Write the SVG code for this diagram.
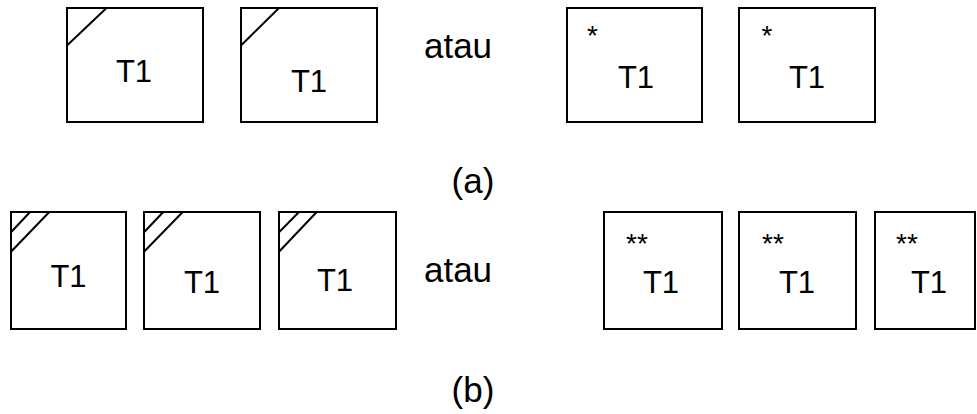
<svg xmlns="http://www.w3.org/2000/svg" width="977" height="414" viewBox="0 0 977 414">
<style>
.box{fill:#fff;stroke:#000;stroke-width:2}
.ln{stroke:#000;stroke-width:2;fill:none}
.t{font-family:"Liberation Sans",Arial,sans-serif;font-size:31px;fill:#000;text-anchor:middle}
.s{font-family:"Liberation Sans",Arial,sans-serif;font-size:28px;fill:#000;text-anchor:middle}
.lbl{font-family:"Liberation Sans",Arial,sans-serif;font-size:35px;fill:#000;text-anchor:middle}
</style>
<rect width="977" height="414" fill="#fff"/>
<g id="a1"><rect class="box" x="67" y="8" width="136" height="114"/><line class="ln" x1="67" y1="45.5" x2="106.5" y2="8"/><text class="t" x="134" y="82">T1</text></g>
<g id="a2"><rect class="box" x="241" y="8" width="136" height="114"/><line class="ln" x1="241" y1="45.5" x2="279" y2="8"/><text class="t" x="309" y="92">T1</text></g>
<g id="a3"><rect class="box" x="567" y="8" width="135" height="114"/><text class="s" x="592.5" y="45">*</text><text class="t" x="636" y="88">T1</text></g>
<g id="a4"><rect class="box" x="739" y="8" width="136" height="114"/><text class="s" x="767" y="45">*</text><text class="t" x="807" y="88">T1</text></g>
<text class="lbl" x="458" y="58">atau</text>
<text class="lbl" x="473" y="193">(a)</text>
<g id="b1"><rect class="box" x="11" y="212" width="115" height="117"/><line class="ln" x1="11" y1="232.3" x2="30" y2="212"/><line class="ln" x1="11" y1="251.7" x2="49.3" y2="212"/><text class="t" x="68.5" y="287">T1</text></g>
<g id="b2"><rect class="box" x="144" y="212" width="116" height="117"/><line class="ln" x1="144" y1="232.3" x2="163.3" y2="212"/><line class="ln" x1="144" y1="251.7" x2="182.7" y2="212"/><text class="t" x="202" y="293">T1</text></g>
<g id="b3"><rect class="box" x="279" y="212" width="117" height="117"/><line class="ln" x1="279" y1="232.3" x2="299" y2="212"/><line class="ln" x1="279" y1="251.7" x2="316.7" y2="212"/><text class="t" x="335" y="291">T1</text></g>
<text class="lbl" x="458" y="282">atau</text>
<g id="b4"><rect class="box" x="604" y="212" width="118" height="117"/><text class="s" x="637" y="253">**</text><text class="t" x="661" y="293">T1</text></g>
<g id="b5"><rect class="box" x="739" y="212" width="117" height="117"/><text class="s" x="773" y="253">**</text><text class="t" x="797" y="293">T1</text></g>
<g id="b6"><rect class="box" x="875" y="212" width="100" height="117"/><text class="s" x="907" y="253">**</text><text class="t" x="929" y="293">T1</text></g>
<text class="lbl" x="473" y="402">(b)</text>
<g id="connectors"></g>
</svg>
